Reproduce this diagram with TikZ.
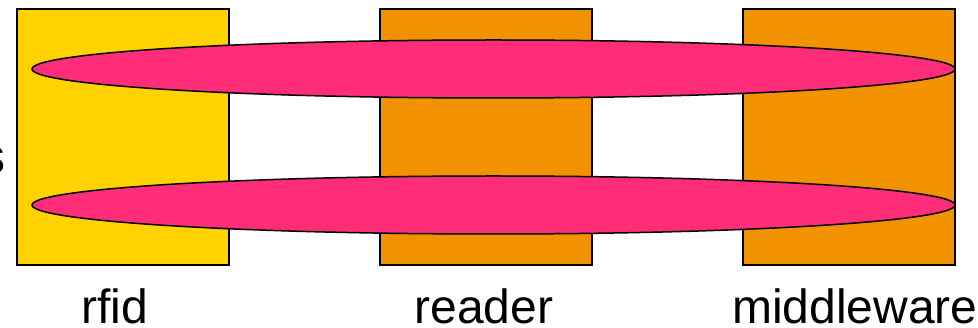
\documentclass[tikz,border=0pt]{standalone}
\usepackage{fontspec}
\setmainfont{Liberation Sans}
\usetikzlibrary{shapes.geometric}
\definecolor{cyellow}{RGB}{255,210,0}
\definecolor{corange}{RGB}{243,146,0}
\definecolor{cpink}{RGB}{255,45,120}
\begin{document}
\begin{tikzpicture}[x=1pt,y=-1pt,
  blockbox/.style={draw=black,line width=1.5pt,minimum width=212pt,minimum height=256pt,inner sep=0pt},
  ring/.style={ellipse,draw=black,fill=cpink,line width=1.5pt,minimum width=923pt,minimum height=58pt,inner sep=0pt},
  lab/.style={font=\fontsize{48}{50}\selectfont,inner sep=0pt,anchor=base}]
\useasboundingbox (0,0) rectangle (978,328);
\node[blockbox,fill=cyellow] (rfid) at (123,137) {};
\node[blockbox,fill=corange] (reader) at (486,137) {};
\node[blockbox,fill=corange] (mw) at (849,137) {};
\node[ring] (e1) at (493.5,69) {};
\node[ring] (e2) at (493.5,205) {};
\node[lab] (l1) at (115,324) {rfid};
\node[lab] (l2) at (484,324) {reader};
\node[lab] (l3) at (855,324) {middleware};
\node[font=\fontsize{50}{52}\selectfont,inner sep=0pt,anchor=base east] (frag) at (5.5,174) {s};
\end{tikzpicture}
\end{document}
